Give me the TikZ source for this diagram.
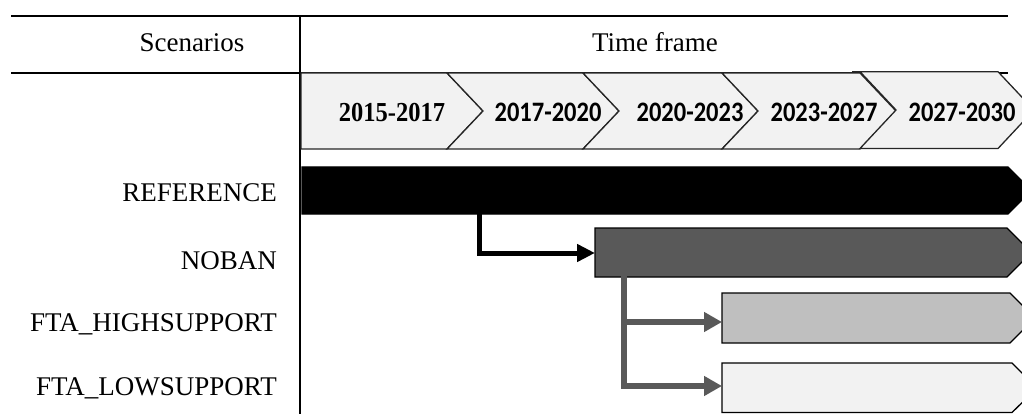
\documentclass[tikz,border=0pt]{standalone}
\usepackage{fontspec}
\setmainfont{Liberation Serif}
\newfontfamily\chevfont{Carlito}
\usetikzlibrary{arrows.meta}
\definecolor{chevfill}{HTML}{F2F2F2}
\definecolor{darkbar}{HTML}{595959}
\definecolor{midbar}{HTML}{BFBFBF}
\definecolor{lightbar}{HTML}{F2F2F2}
\tikzset{
  rule/.style={line width=2pt, black},
  chevron/.style={draw=black!85, line width=1.3pt, fill=chevfill, line join=miter},
  bar/.style={draw=black, line width=1.3pt},
  headtext/.style={font=\fontsize{27}{30}\selectfont, inner sep=0pt},
  scentext/.style={font=\fontsize{27}{30}\selectfont, anchor=base east, inner sep=0pt},
  yeartext/.style={font=\chevfont\bfseries\fontsize{24.5}{28}\selectfont, anchor=base, inner sep=0pt},
  firstyear/.style={font=\bfseries\fontsize{24.5}{28}\selectfont, anchor=base, inner sep=0pt},
  blackarrow/.style={line width=5pt, black, -{Triangle[length=18pt,width=17pt]}},
  grayarrow/.style={line width=5.2pt, darkbar, -{Triangle[length=18pt,width=19pt]}}
}
\begin{document}
\begin{tikzpicture}[x=1pt,y=-1pt]
\useasboundingbox (0,0) rectangle (1022,414);
\clip (0,0) rectangle (1022,414);

% table rules
\draw[rule] (11,16) -- (1008,16);
\draw[line width=1.5pt] (11,73) -- (1008,73);
\draw[rule] (300,16) -- (300,414);

% headers
\node[headtext, anchor=base] (hscen) at (192,52) {Scenarios};
\node[headtext, anchor=base] (htime) at (655,52) {Time frame};

% chevrons
\draw[chevron] (301,73) -- (447,73) -- (483,111) -- (447,149) -- (301,149) -- cycle;
\draw[chevron] (447,73) -- (583,73) -- (619,111) -- (583,149) -- (447,149) -- (483,111) -- cycle;
\draw[chevron] (583,73) -- (722,73) -- (758,111) -- (722,149) -- (583,149) -- (619,111) -- cycle;
\draw[chevron] (722,73) -- (860,73) -- (896,111) -- (860,149) -- (722,149) -- (758,111) -- cycle;
\draw[chevron] (852,71.7) -- (998,71.7) -- (1034,110) -- (998,148.5) -- (860,148.5) -- (896,110) -- (860,71.7) -- cycle;

\node[firstyear] (y1) at (392,122) {\scalebox{1}[1.12]{2015-2017}};
\node[yeartext] (y2) at (548,122) {\scalebox{1}[1.15]{2017-2020}};
\node[yeartext] (y3) at (690,122) {\scalebox{1}[1.15]{2020-2023}};
\node[yeartext] (y4) at (824,122) {\scalebox{1}[1.15]{2023-2027}};
\node[yeartext] (y5) at (962,122) {\scalebox{1}[1.15]{2027-2030}};

% scenario labels
\node[scentext] (lref)  at (277,201) {REFERENCE};
\node[scentext] (lnob)  at (277,269) {NOBAN};
\node[scentext] (lhigh) at (277,331) {FTA\_HIGHSUPPORT};
\node[scentext] (llow)  at (277,395) {FTA\_LOWSUPPORT};

% bars
\draw[bar, fill=black] (302,167) -- (1008,167) -- (1031.5,190.5) -- (1008,214) -- (302,214) -- cycle;
\draw[bar, fill=darkbar] (595,228) -- (1007,228) -- (1031.5,252.5) -- (1007,277) -- (595,277) -- cycle;
\draw[bar, fill=midbar] (722,293) -- (1010,293) -- (1035,318) -- (1010,343) -- (722,343) -- cycle;
\draw[bar, fill=lightbar] (722,363) -- (1012,363) -- (1037,388) -- (1012,412.5) -- (722,412.5) -- cycle;

% connector anchors
\coordinate (refOut) at (479,213);
\coordinate (nobIn) at (595,253);
\coordinate (nobOut) at (624,276);
\coordinate (highIn) at (722,322);
\coordinate (lowIn) at (722,386);

% connectors
\draw[blackarrow] (refOut) |- (nobIn);
\draw[grayarrow] (nobOut) |- (lowIn);
\draw[grayarrow] (nobOut |- highIn) -- (highIn);
\end{tikzpicture}
\end{document}
